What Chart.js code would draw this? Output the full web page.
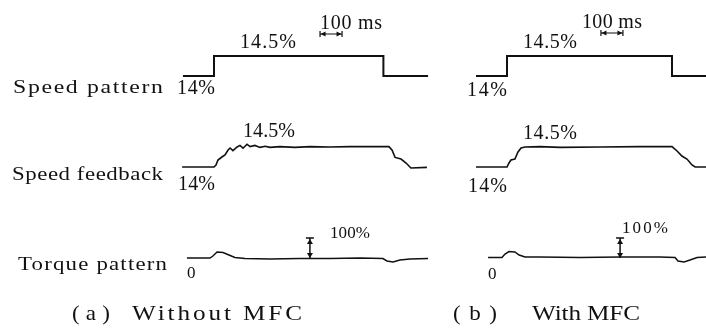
<!DOCTYPE html>
<html>
<head>
<meta charset="utf-8">
<script src="https://cdn.jsdelivr.net/npm/chart.js@4.4.0/dist/chart.umd.min.js"></script>
<style>
  html, body { margin: 0; padding: 0; background: #fff; }
  #wrap { width: 706px; height: 332px; }
</style>
</head>
<body>
<div id="wrap"><canvas id="chart" width="706" height="332"></canvas></div>
<script>
// time in ms counted from the speed step, speed in %, torque in % of rated
const rowLabels = ["Speed pattern", "Speed feedback", "Torque pattern"];
const captions = [["( a )", "Without MFC"], ["( b )", "With MFC"]];
const lowSpeedLabel = "14%";
const highSpeedLabel = "14.5%";
const timeMarkLabel = "100 ms";
const torqueMarkLabel = "100%";
const zeroLabel = "0";

// (a) Without MFC
const patternTimeA = [-141, 0, 0, 770, 770, 973];
const patternSpeedA = [14, 14, 14.5, 14.5, 14, 14];
const feedbackTimeA = [-145, 0, 9, 18, 36, 50, 64, 73, 86, 105, 118, 132, 150, 164, 186, 209, 232, 255, 300, 368, 436, 527, 618, 709, 795, 809, 823, 850, 873, 895, 968];
const feedbackSpeedA = [14.0, 14.0, 14.05, 14.175, 14.25, 14.3, 14.425, 14.475, 14.41, 14.5, 14.54, 14.47, 14.57, 14.51, 14.54, 14.49, 14.52, 14.49, 14.51, 14.49, 14.51, 14.5, 14.51, 14.51, 14.51, 14.425, 14.24, 14.2, 14.1, 13.975, 13.99];
const torqueTimeA = [-123, -18, -5, 14, 41, 68, 95, 141, 255, 391, 527, 664, 768, 786, 814, 845, 891, 973];
const torqueValueA = [0, 0, 10, 30, 27.5, 15, 2.5, -2.5, -5, -2.5, -2.5, 0, -2.5, -15, -20, -10, -5, -2.5];

// (b) With MFC
const patternTimeB = [-141, 0, 0, 750, 750, 905];
const patternSpeedB = [14, 14, 14.5, 14.5, 14, 14];
const feedbackTimeB = [-141, 0, 9, 18, 36, 50, 64, 82, 150, 241, 423, 605, 750, 773, 795, 818, 841, 855, 905];
const feedbackSpeedB = [14.0, 14.0, 14.1, 14.175, 14.2, 14.375, 14.475, 14.5, 14.51, 14.49, 14.5, 14.51, 14.51, 14.4, 14.275, 14.2, 14.05, 14.0, 14.0];
const torqueTimeB = [-86, -23, -9, 9, 36, 55, 82, 150, 332, 514, 695, 764, 777, 805, 832, 864, 905];
const torqueValueB = [2.5, 2.5, 20, 32.5, 30, 15, 5, 5, 2.5, 5, 5, 2.5, -15, -20, -10, 2.5, 5];

// where the markers sit (ms)
const timeMarkStart = [482, 427];
const torqueMarkTime = [436, 514];

const W = 706, H = 332;
const PX_PER_MS = 0.22;
const FONT = '"Liberation Serif", "DejaVu Serif", serif';
const INK = "#111";

function xRange(stepPx) {
    return { min: -stepPx / PX_PER_MS, max: (W - stepPx) / PX_PER_MS };
}
function yRange(value, pixel, pxPerUnit) {
    return { min: value - (H - pixel) / pxPerUnit, max: value + pixel / pxPerUnit };
}

function trace(times, values, xId, yId, width) {
    return {
        data: times.map((t, i) => ({ x: t, y: values[i] })),
        xAxisID: xId,
        yAxisID: yId,
        borderColor: INK,
        borderWidth: width,
        pointRadius: 0,
        tension: 0,
        fill: false
    };
}

// text stretched to the width it has in the scan (wider glyphs + spacing)
function spacedText(ctx, str, x, y, size, width, align, sx) {
    sx = sx || 1;
    ctx.font = size + "px " + FONT;
    ctx.letterSpacing = "0px";
    const w = ctx.measureText(str).width;
    let ls = 0;
    if (width && str.length > 1) ls = (width / sx - w) / (str.length - 1);
    const total = sx * (w + ls * (str.length - 1));
    let left = x;
    if (align === "right") left = x - total;
    ctx.save();
    ctx.translate(left, y);
    ctx.scale(sx, 1);
    ctx.letterSpacing = ls + "px";
    ctx.textAlign = "left";
    ctx.textBaseline = "alphabetic";
    ctx.fillStyle = INK;
    ctx.fillText(str, 0, 0);
    ctx.restore();
    ctx.letterSpacing = "0px";
}

function arrowHead(ctx, x, y, dx, dy, len, half) {
    // tip at (x,y), pointing along (dx,dy)
    ctx.beginPath();
    ctx.moveTo(x, y);
    ctx.lineTo(x - dx * len - dy * half, y - dy * len - dx * half);
    ctx.lineTo(x - dx * len + dy * half, y - dy * len + dx * half);
    ctx.closePath();
    ctx.fill();
}

const overlay = {
    id: "overlay",
    afterDatasetsDraw(chart) {
        const ctx = chart.ctx;
        const s = chart.scales;
        ctx.save();
        ctx.strokeStyle = INK;
        ctx.fillStyle = INK;

        // row labels
        spacedText(ctx, rowLabels[0], 163, 93, 19, 150, "right", 1.25);
        spacedText(ctx, rowLabels[1], 163, 180, 19, 151, "right", 1.2);
        spacedText(ctx, rowLabels[2], 167, 270, 19, 149, "right", 1.2);

        // panel annotations
        const panels = [
            { x: s.xa, hi: [240, 48, 56], tm: [320, 29, 62], lo: [177, 94, 38], fhi: [243, 137, 52], flo: [178, 190, 37], tq: [330, 238, 40], zero: [187, 278], cap: [[72, 38], [132, 170]], markY: 34 },
            { x: s.xb, hi: [523, 48, 54], tm: [582, 28, 60], lo: [467, 96, 40], fhi: [523, 139, 54], flo: [468, 192, 39], tq: [622, 233, 46], zero: [488, 279], cap: [[453, 44], [532, 108]], markY: 33 }
        ];
        panels.forEach((p, i) => {
            spacedText(ctx, highSpeedLabel, p.hi[0], p.hi[1], 20, p.hi[2]);
            spacedText(ctx, timeMarkLabel, p.tm[0], p.tm[1], 20, p.tm[2]);
            spacedText(ctx, lowSpeedLabel, p.lo[0], p.lo[1], 20, p.lo[2]);
            spacedText(ctx, highSpeedLabel, p.fhi[0], p.fhi[1], 20, p.fhi[2]);
            spacedText(ctx, lowSpeedLabel, p.flo[0], p.flo[1], 20, p.flo[2]);
            spacedText(ctx, torqueMarkLabel, p.tq[0], p.tq[1], 17, p.tq[2]);
            spacedText(ctx, zeroLabel, p.zero[0], p.zero[1], 17);
            spacedText(ctx, captions[i][0], p.cap[0][0], 320, 21, p.cap[0][1], "left", 1.1);
            spacedText(ctx, captions[i][1], p.cap[1][0], 320, 21, p.cap[1][1], "left", 1.2);

            // 100 ms marker
            const x1 = p.x.getPixelForValue(timeMarkStart[i]);
            const x2 = p.x.getPixelForValue(timeMarkStart[i] + 100);
            const ym = p.markY;
            ctx.lineWidth = 1.2;
            ctx.beginPath();
            ctx.moveTo(x1, ym); ctx.lineTo(x2, ym);
            ctx.moveTo(x1, ym - 3); ctx.lineTo(x1, ym + 3);
            ctx.moveTo(x2, ym - 3); ctx.lineTo(x2, ym + 3);
            ctx.stroke();
            arrowHead(ctx, x1 + 0.5, ym, -1, 0, 5, 2.5);
            arrowHead(ctx, x2 - 0.5, ym, 1, 0, 5, 2.5);

            // 100 % torque marker
            const xt = p.x.getPixelForValue(torqueMarkTime[i]);
            const yTop = s.ytq.getPixelForValue(100);
            const yBot = s.ytq.getPixelForValue(0);
            ctx.lineWidth = 1.5;
            ctx.beginPath();
            ctx.moveTo(xt, yTop); ctx.lineTo(xt, yBot);
            ctx.moveTo(xt - 4, yTop); ctx.lineTo(xt + 4, yTop);
            ctx.stroke();
            arrowHead(ctx, xt, yTop + 1, 0, -1, 5, 3);
            arrowHead(ctx, xt, yBot, 0, 1, 5, 3);
        });
        ctx.restore();
    }
};

const hidden = { type: "linear", display: false };

new Chart(document.getElementById("chart"), {
    type: "line",
    data: {
        datasets: [
            trace(patternTimeA, patternSpeedA, "xa", "ysp", 2),
            trace(feedbackTimeA, feedbackSpeedA, "xa", "ysf", 1.6),
            trace(torqueTimeA, torqueValueA, "xa", "ytq", 1.5),
            trace(patternTimeB, patternSpeedB, "xb", "ysp", 2),
            trace(feedbackTimeB, feedbackSpeedB, "xb", "ysf", 1.6),
            trace(torqueTimeB, torqueValueB, "xb", "ytq", 1.5)
        ]
    },
    options: {
        responsive: false,
        devicePixelRatio: 1,
        animation: false,
        events: [],
        layout: { padding: 0 },
        plugins: { legend: { display: false }, tooltip: { enabled: false } },
        scales: {
            xa: Object.assign({}, hidden, { position: "bottom" }, xRange(214)),
            xb: Object.assign({}, hidden, { position: "bottom" }, xRange(507)),
            ysp: Object.assign({}, hidden, yRange(14, 76, 40)),
            ysf: Object.assign({}, hidden, yRange(14, 167, 40)),
            ytq: Object.assign({}, hidden, yRange(0, 258, 0.2))
        }
    },
    plugins: [overlay]
});
</script>
</body>
</html>
